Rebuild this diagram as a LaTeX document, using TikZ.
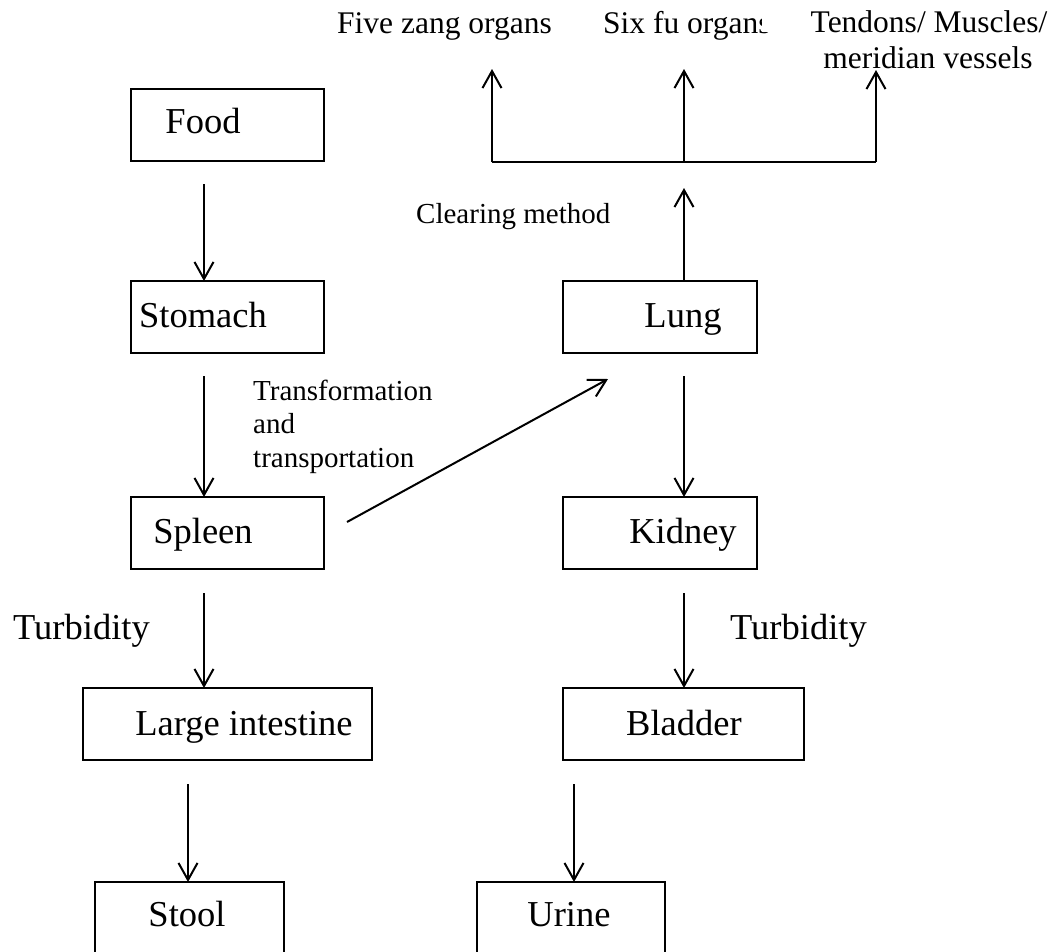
\documentclass[tikz,border=0pt]{standalone}
\usepackage{fontspec}
\setmainfont{Liberation Serif}
\usetikzlibrary{arrows.meta}
\begin{document}
\begin{tikzpicture}[x=1pt,y=-1pt,
  boxn/.style={draw,line width=2pt,minimum height=72pt,inner sep=0pt,outer sep=0pt,anchor=north west},
  big/.style={font=\fontsize{36.5}{40}\selectfont,inner sep=0pt,anchor=base},
  mid/.style={font=\fontsize{31.5}{36}\selectfont,inner sep=0pt},
  small/.style={font=\fontsize{29}{33.5}\selectfont,inner sep=0pt},
  arr/.style={line width=2pt,-{Straight Barb[length=17pt,width=19pt,line width=2pt]}},
  ln/.style={line width=2pt}]
\useasboundingbox (0,0) rectangle (1059,951);
% left column boxes
\node[boxn,minimum width=193pt] (food) at (131,89) {};
\node[big] (foodt) at (203,133) {Food};
\node[boxn,minimum width=193pt] (stomach) at (131,281) {};
\node[big] (stomacht) at (203,327) {Stomach};
\node[boxn,minimum width=193pt] (spleen) at (131,497) {};
\node[big] (spleent) at (203,543) {Spleen};
\node[boxn,minimum width=289pt] (li) at (83,688) {};
\node[big] (lit) at (244,735) {Large intestine};
\node[boxn,minimum width=189pt] (stool) at (95,882) {};
\node[big] (stoolt) at (187,926) {Stool};
% right column boxes
\node[boxn,minimum width=194pt] (lung) at (563,281) {};
\node[big] (lungt) at (683,327) {Lung};
\node[boxn,minimum width=194pt] (kidney) at (563,497) {};
\node[big] (kidneyt) at (683,543) {Kidney};
\node[boxn,minimum width=241pt] (bladder) at (563,688) {};
\node[big] (bladdert) at (684,735) {Bladder};
\node[boxn,minimum width=188pt] (urine) at (477,882) {};
\node[big] (urinet) at (569,926) {Urine};
% left arrows
\coordinate (a1) at (204,184);
\draw[arr] (a1) -- (a1 |- stomach.north);
\coordinate (a2) at (204,376);
\draw[arr] (a2) -- (a2 |- spleen.north);
\coordinate (a3) at (204,593);
\draw[arr] (a3) -- (a3 |- li.north);
\coordinate (a4) at (188,784);
\draw[arr] (a4) -- (a4 |- stool.north);
% right arrows
\coordinate (b1) at (684,376);
\draw[arr] (b1) -- (b1 |- kidney.north);
\coordinate (b2) at (684,593);
\draw[arr] (b2) -- (b2 |- bladder.north);
\coordinate (b3) at (574,784);
\draw[arr] (b3) -- (b3 |- urine.north);
% diagonal spleen -> lung
\coordinate (d1) at (347,522);
\coordinate (d2) at (608,379);
\draw[arr] (d1) -- (d2);
% lung up
\coordinate (lt) at (684,188);
\draw[arr] (lt |- lung.north) -- (lt);
% bracket
\coordinate (bl) at (492,162);
\coordinate (bm) at (684,162);
\coordinate (br) at (876,162);
\draw[ln] (bl) -- (br);
\coordinate (t1) at (492,69);
\coordinate (t2) at (684,69);
\coordinate (t3) at (876,70);
\draw[arr] (bl) -- (t1);
\draw[arr] (bm) -- (t2);
\draw[arr] (br) -- (t3);
% top labels
\node[mid,anchor=base west] (five) at (337,33) {Five zang organs};
\node[mid,anchor=base west] (six) at (603,33) {Six fu organs};
\node[mid,anchor=base,fill=white,minimum width=334pt] (tend) at (929,32) {Tendons/ Muscles/};
\node[mid,anchor=base] (merid) at (928,68) {meridian vessels};
% other labels
\node[small,anchor=base west] (clear) at (416,223) {Clearing method};
\node[small,anchor=base west] (tr1) at (253,400) {Transformation};
\node[small,anchor=base west] (tr2) at (253,433) {and};
\node[small,anchor=base west] (tr3) at (253,467) {transportation};
\node[big,anchor=base west] (turbl) at (13,639) {Turbidity};
\node[big,anchor=base west] (turbr) at (730,639) {Turbidity};
\end{tikzpicture}
\end{document}
